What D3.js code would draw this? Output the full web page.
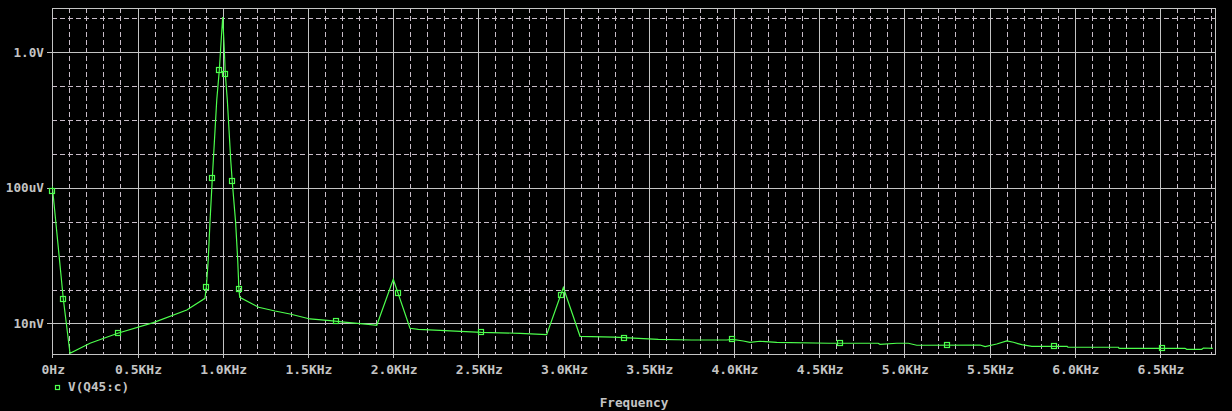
<!DOCTYPE html>
<html><head><meta charset="utf-8">
<script src="https://cdn.jsdelivr.net/npm/d3@7"></script>
<style>body{margin:0;background:#000;overflow:hidden} svg{display:block}</style>
</head><body><svg id="c" width="1232" height="411"></svg>
<script>
// ---- data ----
const traceFreqKHz = [0, 0.0646, 0.104, 0.221, 0.384, 0.593, 0.789, 0.896, 0.904, 0.915, 0.925, 0.939, 0.945, 0.955, 0.965, 0.980, 0.990, 1.000, 1.0076, 1.0153, 1.027, 1.037, 1.047, 1.056, 1.076, 1.088, 1.095, 1.100, 1.211, 1.307, 1.395, 1.512, 1.630, 1.728, 1.854, 1.904, 2.001, 2.099, 2.148, 2.275, 2.518, 2.745, 2.901, 2.999, 3.097, 3.296, 3.556, 3.752, 3.958, 3.991, 4.055, 4.094, 4.153, 4.251, 4.558, 4.846, 4.857, 4.955, 5.023, 5.073, 5.444, 5.474, 5.542, 5.601, 5.640, 5.689, 5.748, 5.955, 5.960, 6.256, 6.260, 6.647, 6.657, 6.745, 6.755, 6.810];
const traceVolts = [1.14e-4, 5.28e-8, 1.32e-9, 2.61e-9, 5.14e-9, 1.06e-8, 2.50e-8, 5.53e-8, 1.22e-7, 7.46e-7, 9.23e-6, 1.92e-4, 6.65e-4, 5.11e-3, 3.92e-2, 0.294, 1.88, 11.0, 1.88, 0.229, 3.92e-2, 5.11e-3, 6.65e-4, 1.55e-4, 9.23e-6, 7.46e-7, 1.04e-7, 5.93e-8, 3.01e-8, 2.34e-8, 1.91e-8, 1.36e-8, 1.21e-8, 1.08e-8, 9.46e-9, 8.85e-9, 2.01e-7, 7.21e-9, 6.75e-9, 6.30e-9, 5.50e-9, 5.14e-9, 4.68e-9, 1.14e-7, 4.19e-9, 3.97e-9, 3.42e-9, 3.26e-9, 3.26e-9, 3.42e-9, 3.05e-9, 2.79e-9, 2.99e-9, 2.79e-9, 2.61e-9, 2.61e-9, 2.43e-9, 2.61e-9, 2.61e-9, 2.28e-9, 2.32e-9, 2.07e-9, 2.48e-9, 3.05e-9, 2.79e-9, 2.37e-9, 2.12e-9, 2.12e-9, 1.99e-9, 1.99e-9, 1.85e-9, 1.85e-9, 1.73e-9, 1.73e-9, 1.89e-9, 1.85e-9];
const markerFreqKHz = [0, 0.0646, 0.384, 0.904, 0.939, 0.980, 1.0153, 1.056, 1.095, 1.667, 2.031, 2.518, 2.984, 3.357, 3.991, 4.624, 5.252, 5.880, 6.514];
const markerVolts = [8.1e-5, 5.28e-8, 5.14e-9, 1.22e-7, 1.92e-4, 0.294, 0.229, 1.55e-4, 1.04e-7, 1.19e-8, 7.78e-8, 5.50e-9, 6.8e-8, 3.65e-9, 3.42e-9, 2.61e-9, 2.28e-9, 2.12e-9, 1.85e-9];
const xMajorTicks = [0, 0.5, 1.0, 1.5, 2.0, 2.5, 3.0, 3.5, 4.0, 4.5, 5.0, 5.5, 6.0, 6.5];
const xTickLabels = ["0Hz", "0.5KHz", "1.0KHz", "1.5KHz", "2.0KHz", "2.5KHz", "3.0KHz", "3.5KHz", "4.0KHz", "4.5KHz", "5.0KHz", "5.5KHz", "6.0KHz", "6.5KHz"];
const xMinorTicks = [0.1,0.2,0.3,0.4,0.6,0.7,0.8,0.9,1.1,1.2,1.3,1.4,1.6,1.7,1.8,1.9,2.1,2.2,2.3,2.4,2.6,2.7,2.8,2.9,3.1,3.2,3.3,3.4,3.6,3.7,3.8,3.9,4.1,4.2,4.3,4.4,4.6,4.7,4.8,4.9,5.1,5.2,5.3,5.4,5.6,5.7,5.8,5.9,6.1,6.2,6.3,6.4,6.6,6.7,6.8];
const yMajorTicks = [1, 1e-4, 1e-8];
const yTickLabels = ["1.0V", "100uV", "10nV"];
const yMinorTicks = [10, 0.1, 0.01, 1e-3, 1e-5, 1e-6, 1e-7];
const seriesName = "V(Q45:c)";
const xTitle = "Frequency";
const xDomain = [0, 6.82];
const yDomain = [1.259e-9, 20.28];

// ---- drawing ----
const svg = d3.select("#c");
svg.append("rect").attr("width", 1232).attr("height", 411).attr("fill", "#000");
const L = 52.3, R = 1214.5, T = 8, B = 354;
const x = d3.scaleLinear().domain(xDomain).range([L, R]);
const y = d3.scaleLog().domain(yDomain).range([B, T]);
const px = v => Math.round(v) + 0.5;

const solid = "#c4c4c4", dashed = "#c8bcc8", green = "#4dff4d", textCol = "#c4c4c4";
const font = "'DejaVu Sans Mono', 'Liberation Mono', monospace";

const grid = svg.append("g").attr("shape-rendering", "crispEdges");
// minor dashed vertical
grid.selectAll(".vx").data(xMinorTicks).enter().append("line")
  .attr("x1", d => px(x(d))).attr("x2", d => px(x(d)))
  .attr("y1", T).attr("y2", B)
  .attr("stroke", dashed).attr("stroke-dasharray", "5,3");
// minor dashed horizontal
grid.selectAll(".hy").data(yMinorTicks).enter().append("line")
  .attr("y1", d => px(y(d))).attr("y2", d => px(y(d)))
  .attr("x1", L).attr("x2", R)
  .attr("stroke", dashed).attr("stroke-dasharray", "5,3");
// major solid vertical + ticks
grid.selectAll(".mx").data(xMajorTicks).enter().append("line")
  .attr("x1", d => px(x(d))).attr("x2", d => px(x(d)))
  .attr("y1", T).attr("y2", B + 4)
  .attr("stroke", solid);
// major solid horizontal + ticks
grid.selectAll(".my").data(yMajorTicks).enter().append("line")
  .attr("y1", d => px(y(d))).attr("y2", d => px(y(d)))
  .attr("x1", L - 5).attr("x2", R)
  .attr("stroke", solid);
// frame
grid.append("rect").attr("x", px(L)).attr("y", px(T))
  .attr("width", Math.round(R) - Math.round(L)).attr("height", Math.round(B) - Math.round(T))
  .attr("fill", "none").attr("stroke", solid);

// labels
svg.selectAll(".xl").data(xMajorTicks).enter().append("text")
  .attr("x", d => x(d) + 1).attr("y", 374)
  .attr("text-anchor", "middle").attr("fill", textCol)
  .attr("font-family", font).attr("font-size", 13).attr("font-weight", "bold")
  .text((d, i) => xTickLabels[i]);
svg.selectAll(".yl").data(yMajorTicks).enter().append("text")
  .attr("x", 44).attr("y", d => y(d) + 4.5)
  .attr("text-anchor", "end").attr("fill", textCol)
  .attr("font-family", font).attr("font-size", 12.7).attr("font-weight", "bold")
  .text((d, i) => yTickLabels[i]);

// trace
const clip = svg.append("clipPath").attr("id", "clp").append("rect")
  .attr("x", L).attr("y", T).attr("width", R - L).attr("height", B - T);
const pts = traceFreqKHz.map((f, i) => [f, traceVolts[i]]);
const line = d3.line().x(d => x(d[0])).y(d => y(d[1]));
svg.append("path").datum(pts).attr("d", line)
  .attr("fill", "none").attr("stroke", green).attr("stroke-width", 1.2)
  .attr("clip-path", "url(#clp)");

// markers
const mk = markerFreqKHz.map((f, i) => [f, markerVolts[i]]);
svg.selectAll(".mk").data(mk).enter().append("rect")
  .attr("x", d => Math.round(x(d[0])) - 2.5).attr("y", d => Math.round(y(d[1])) - 2.5)
  .attr("width", 5).attr("height", 5)
  .attr("fill", "none").attr("stroke", green).attr("stroke-width", 1.2);

// legend
svg.append("rect").attr("x", 55.5).attr("y", 385.5).attr("width", 4).attr("height", 4)
  .attr("fill", "none").attr("stroke", green).attr("stroke-width", 1.2);
svg.append("text").attr("x", 68).attr("y", 391)
  .attr("fill", textCol).attr("font-family", font).attr("font-size", 12.7).attr("font-weight", "bold")
  .text(seriesName);
svg.append("text").attr("x", 634).attr("y", 407).attr("text-anchor", "middle")
  .attr("fill", textCol).attr("font-family", font).attr("font-size", 12.7).attr("font-weight", "bold")
  .text(xTitle);
</script>
</body></html>
